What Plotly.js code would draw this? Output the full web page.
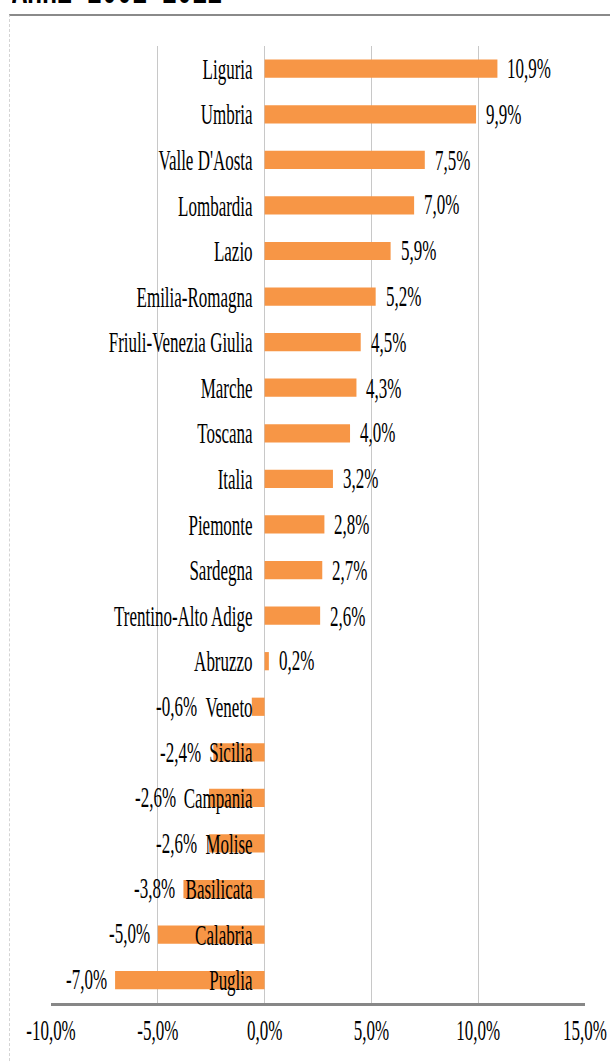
<!DOCTYPE html>
<html>
<head>
<meta charset="utf-8">
<script src="https://cdn.plot.ly/plotly-3.0.1.min.js"></script>
<style>
  html, body { margin: 0; padding: 0; background: #ffffff; }
  #wrap { position: relative; width: 610px; height: 1062px; overflow: hidden; background: #fff; }
  #chart { position: absolute; left: 0; top: 0; width: 610px; height: 625px;
           transform: scaleY(1.7); transform-origin: 0 0; }
  #frame { position: absolute; left: 9px; top: 14px; width: 700px; height: 1100px;
           border-top: 2px solid #8a8a8a; border-left: 1px dashed #d4d4d4; pointer-events: none; }
</style>
</head>
<body>
<div id="wrap">
  <div id="chart"></div>
  <div id="frame"></div>
</div>
<script>
// ---- data ----
const titleText = 'Anni 2001-2011';
const regions = ['Liguria', 'Umbria', "Valle D'Aosta", 'Lombardia', 'Lazio', 'Emilia-Romagna',
  'Friuli-Venezia Giulia', 'Marche', 'Toscana', 'Italia', 'Piemonte', 'Sardegna',
  'Trentino-Alto Adige', 'Abruzzo', 'Veneto', 'Sicilia', 'Campania', 'Molise',
  'Basilicata', 'Calabria', 'Puglia'];
const values = [10.9, 9.9, 7.5, 7.0, 5.9, 5.2, 4.5, 4.3, 4.0, 3.2, 2.8, 2.7, 2.6, 0.2,
  -0.6, -2.4, -2.6, -2.6, -3.8, -5.0, -7.0];
const xTickVals = [-10, -5, 0, 5, 10, 15];
const xTickText = ['-10,0%', '-5,0%', '0,0%', '5,0%', '10,0%', '15,0%'];

// ---- styling ----
const FONT = '"Liberation Serif", "Times New Roman", serif';
const fmt = v => v.toFixed(1).replace('.', ',') + '%';

const trace = {
  type: 'bar',
  orientation: 'h',
  x: values,
  y: regions,
  marker: { color: '#F79646', line: { width: 0 } },
  hoverinfo: 'skip'
};

const layout = {
  width: 610,
  height: 625,
  margin: { l: 51, r: 25, t: 26.8, b: 34.7, pad: 0 },
  paper_bgcolor: 'rgba(0,0,0,0)',
  plot_bgcolor: '#ffffff',
  showlegend: false,
  bargap: 0.6,
  font: { family: FONT, size: 17, color: '#000000' },
  title: {
    text: '<b>' + titleText + '</b>',
    font: { family: '"Liberation Mono", "Courier New", monospace', size: 25, color: '#000' },
    xref: 'container', yref: 'container',
    x: 12 / 610, xanchor: 'left',
    y: 0.9968, yanchor: 'bottom'
  },
  xaxis: {
    range: [-10, 15],
    tickvals: xTickVals,
    ticktext: xTickText,
    ticks: '',
    showgrid: true,
    gridcolor: '#c8c8c8',
    gridwidth: 1,
    zeroline: true,
    zerolinecolor: '#c8c8c8',
    zerolinewidth: 1,
    showline: true,
    linecolor: '#878787',
    linewidth: 1.5,
    ticklabelstandoff: 5.5,
    tickfont: { family: FONT, size: 17, color: '#000' },
    fixedrange: true
  },
  yaxis: {
    type: 'category',
    autorange: 'reversed',
    anchor: 'free',
    position: 0.4,
    showgrid: false,
    zeroline: false,
    showline: false,
    ticks: '',
    ticklabelstandoff: 12,
    tickfont: { family: FONT, size: 17, color: '#000' },
    fixedrange: true
  }
};

const gd = document.getElementById('chart');
Plotly.newPlot(gd, [trace], layout, { displayModeBar: false, staticPlot: true }).then(() => {
  const fl = gd._fullLayout;
  const xa = fl.xaxis;
  const offL = fl._size.l;
  const chartLeft = gd.getBoundingClientRect().left;
  // left edge of each category label
  const labelLeft = {};
  gd.querySelectorAll('.ytick text').forEach(t => {
    const r = t.getBoundingClientRect();
    labelLeft[t.textContent] = r.left - chartLeft;
  });
  const gapPos = 8, gapNeg = 6;
  const anns = regions.map((name, i) => {
    const v = values[i];
    const base = { x: v, y: name, xref: 'x', yref: 'y', text: fmt(v), showarrow: false,
      font: { family: FONT, size: 17, color: '#000' }, yanchor: 'middle' };
    if (v >= 0) {
      return Object.assign(base, { xanchor: 'left', xshift: gapPos });
    }
    const barEnd = xa.l2p(v) + offL;
    const lab = (labelLeft[name] !== undefined) ? labelLeft[name] : barEnd;
    const shift = Math.min(0, lab - barEnd) - gapNeg;
    return Object.assign(base, { xanchor: 'right', xshift: shift });
  });
  return Plotly.relayout(gd, { annotations: anns });
});
</script>
</body>
</html>
